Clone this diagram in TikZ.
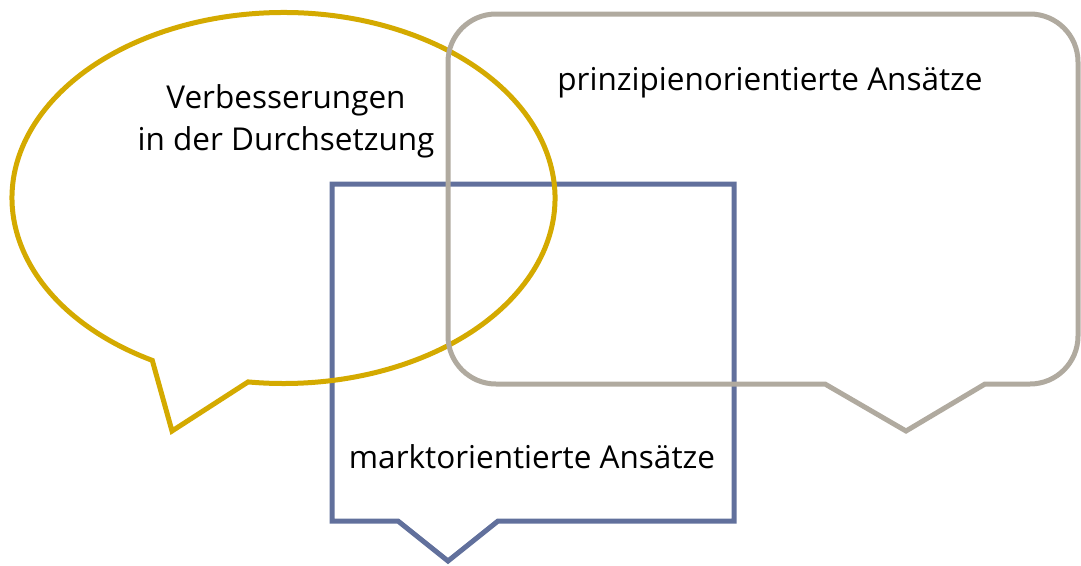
\documentclass[tikz,border=0pt]{standalone}
\usepackage{fontspec}
\setmainfont{Open Sans}
\definecolor{goldc}{HTML}{D4AA00}
\definecolor{grayc}{HTML}{B0AA9F}
\definecolor{bluec}{HTML}{61709C}
\tikzset{
  shapeline/.style={line width=5pt, line join=miter},
  lbl/.style={font=\fontsize{31.5}{42}\selectfont, text=black, inner sep=0pt, align=center}
}
\begin{document}
\begin{tikzpicture}[x=1pt,y=-1pt]
\useasboundingbox (0,0) rectangle (1081,565);
% blue rectangle callout
\draw[shapeline, bluec] (332,184) -- (734,184) -- (734,521) -- (498,521) -- (448,561) -- (398,521) -- (332,521) -- cycle;
% gold ellipse callout
\draw[shapeline, goldc] (152.3,360.4) arc[start angle=118.9, end angle=457.5, x radius=271.5, y radius=185.5] -- (172,431) -- cycle;
% gray rounded callout
\draw[shapeline, grayc] (760,14) [rounded corners=48pt] -- (1078,14) -- (1078,384) [sharp corners] -- (985,384) -- (906,431) -- (825,384) [rounded corners=48pt] -- (448,384) -- (448,14) -- cycle;
% texts
\node[lbl, anchor=base] (t1) at (286,150) {Verbesserungen\\in der Durchsetzung};
\node[lbl, anchor=base] (t2) at (770,90) {prinzipienorientierte Ansätze};
\node[lbl, anchor=base] (t3) at (532,468) {marktorientierte Ansätze};
\end{tikzpicture}
\end{document}
